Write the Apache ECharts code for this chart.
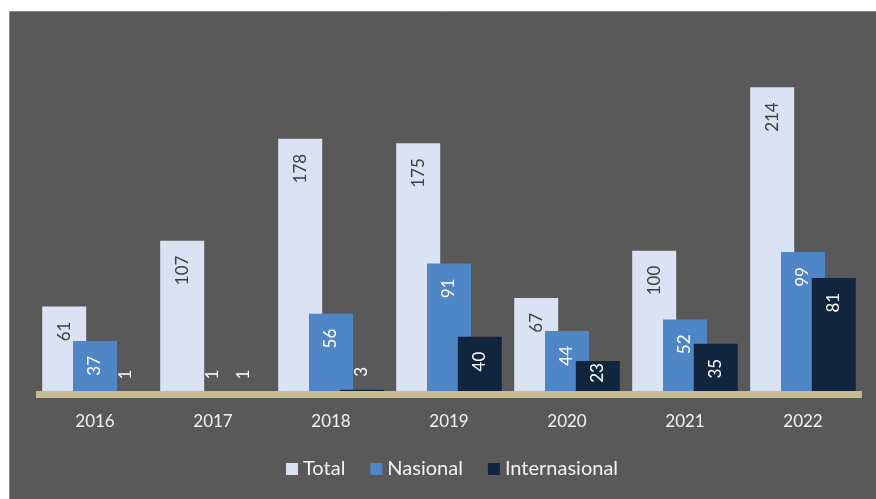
<!DOCTYPE html>
<html>
<head>
<meta charset="utf-8">
<script src="https://cdn.jsdelivr.net/npm/echarts@6/dist/echarts.min.js"></script>
<style>
  html, body { margin: 0; padding: 0; background: #ffffff; }
  #chart { width: 876px; height: 499px; }
</style>
</head>
<body>
<div id="chart"></div>
<script>
// Years on the category axis
const years = ['2016', '2017', '2018', '2019', '2020', '2021', '2022'];

// Counts per year
const totalValues = [61, 107, 178, 175, 67, 100, 214];
const nasionalValues = [37, 1, 56, 91, 44, 52, 99];
const internasionalValues = [1, 1, 3, 40, 23, 35, 81];

const seriesNames = ['Total', 'Nasional', 'Internasional'];
const seriesColors = ['#dae3f3', '#4f86c6', '#11253f'];
const labelColors = ['#3d3d3d', '#ffffff', '#ffffff'];

const FONT = 'Lato, "Open Sans", sans-serif';

// Rotated value labels: tiny bars get the label above them,
// short bars keep it close to the top edge, others sit a bit inside.
function labelFor(value, color) {
  if (value < 10) {
    return { show: true, position: 'top', distance: 13, rotate: 90,
             align: 'left', verticalAlign: 'middle', color: '#ffffff' };
  }
  return { show: true, position: 'insideTop', distance: value < 30 ? 2 : 15,
           rotate: 90, align: 'right', verticalAlign: 'middle', color: color };
}

function buildSeries(name, values, idx) {
  return {
    name: name,
    type: 'bar',
    barWidth: 44,
    barGap: '-30%',
    itemStyle: { color: seriesColors[idx] },
    label: { fontFamily: FONT, fontSize: 17 },
    data: values.map(v => ({ value: v, label: labelFor(v, labelColors[idx]) })),
    z: 2 + idx
  };
}

const chart = echarts.init(document.getElementById('chart'), null, { renderer: 'canvas' });

chart.setOption({
  backgroundColor: 'transparent',
  animation: false,
  graphic: [{
    type: 'rect',
    z: -10,
    silent: true,
    shape: { x: 9.5, y: 11.5, width: 880, height: 500 },
    style: { fill: '#595959', stroke: '#8c8c8c', lineWidth: 1 }
  }],
  legend: {
    data: seriesNames,
    left: 281,
    top: 454,
    icon: 'rect',
    itemWidth: 12,
    itemHeight: 12,
    itemGap: 25,
    textStyle: { color: '#f2f2f2', fontFamily: FONT, fontSize: 20 }
  },
  grid: { left: 36, right: 14, top: 50, bottom: 105 },
  xAxis: {
    type: 'category',
    data: years,
    axisTick: { show: false },
    axisLine: { show: true, lineStyle: { color: '#c8bb8e', width: 7, cap: 'butt' } },
    axisLabel: { color: '#f2f2f2', fontFamily: FONT, fontSize: 17, margin: 19 },
    z: 10
  },
  yAxis: {
    type: 'value',
    min: 0,
    max: 240,
    show: false,
    splitLine: { show: false }
  },
  series: [
    buildSeries(seriesNames[0], totalValues, 0),
    buildSeries(seriesNames[1], nasionalValues, 1),
    buildSeries(seriesNames[2], internasionalValues, 2)
  ]
});
</script>
</body>
</html>
